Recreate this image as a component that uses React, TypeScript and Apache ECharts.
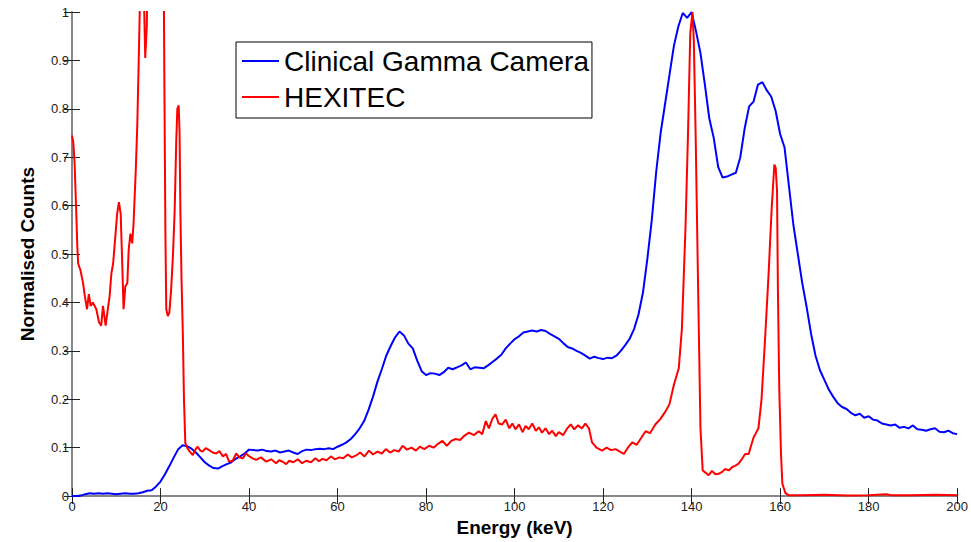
import React, { useEffect, useRef } from "react";
import * as echarts from "echarts";

// Clinical Gamma Camera: counts at 1 keV steps from 0 to 200 keV
const blueCounts = [
  0.0, 0.0, 0.001, 0.004, 0.006, 0.005, 0.006, 0.005, 0.006, 0.005,
  0.004, 0.005, 0.006, 0.005, 0.005, 0.006, 0.008, 0.011, 0.012, 0.02,
  0.03, 0.045, 0.062, 0.08, 0.097, 0.105, 0.103, 0.098, 0.09, 0.08,
  0.07, 0.063, 0.058, 0.057, 0.062, 0.066, 0.07, 0.077, 0.082, 0.088,
  0.096, 0.095, 0.094, 0.096, 0.093, 0.092, 0.094, 0.09, 0.092, 0.094,
  0.09, 0.087, 0.093, 0.096, 0.095, 0.097, 0.098, 0.097, 0.099, 0.097,
  0.102, 0.106, 0.111, 0.118, 0.128, 0.14, 0.155, 0.178, 0.205, 0.236,
  0.262, 0.29, 0.31, 0.328, 0.34, 0.332, 0.315, 0.305, 0.28, 0.258,
  0.25, 0.254, 0.253, 0.25, 0.256, 0.265, 0.262, 0.266, 0.27, 0.276,
  0.262, 0.266, 0.265, 0.264, 0.27, 0.277, 0.284, 0.292, 0.305, 0.315,
  0.324, 0.33, 0.338, 0.34, 0.342, 0.34, 0.343, 0.341, 0.335, 0.33,
  0.325, 0.316, 0.308, 0.305, 0.3, 0.296, 0.29, 0.284, 0.288, 0.285,
  0.283, 0.286, 0.285, 0.29, 0.3, 0.312, 0.325, 0.345, 0.375, 0.42,
  0.49, 0.57, 0.67, 0.75, 0.81, 0.87, 0.93, 0.97, 0.998, 0.988,
  1.0, 0.96, 0.915, 0.85, 0.78, 0.74, 0.68, 0.658, 0.66, 0.664,
  0.668, 0.7, 0.76, 0.805, 0.815, 0.85, 0.855, 0.838, 0.825, 0.795,
  0.748, 0.72, 0.64, 0.56, 0.5, 0.44, 0.39, 0.335, 0.29, 0.26,
  0.24, 0.22, 0.205, 0.192, 0.184, 0.18, 0.172, 0.167, 0.17, 0.162,
  0.165, 0.158, 0.156, 0.15, 0.148, 0.146, 0.148, 0.141, 0.143, 0.14,
  0.146, 0.138, 0.137, 0.135, 0.138, 0.14, 0.133, 0.132, 0.135, 0.13,
  0.128,
];

// HEXITEC: energies (keV) and normalised counts
const redEnergy = [
  0, 0.3, 0.6, 0.8, 1.0, 1.2, 1.4, 1.9, 2.5, 2.9, 3.4, 3.8, 4.2, 4.7, 5.5, 6.1, 6.6, 7.0, 7.6, 8.1,
  8.5, 8.9, 9.3, 9.9, 10.2, 10.6, 11.0, 11.3, 11.65, 12.05, 12.5, 12.8, 13.2, 13.6, 13.9, 14.4, 14.75, 15.05, 15.3, 15.8,
  16.2, 16.55, 16.9, 17.2, 18, 19, 20, 20.7, 20.9, 21.1, 21.3, 21.65, 22.0, 22.4, 22.8, 23.2, 23.55, 23.8, 24.1, 24.3,
  24.5, 24.75, 25.05, 25.3, 25.6, 26.0, 26.6, 27.3, 28.0, 28.4, 29.0, 29.5, 30.2, 31.0, 31.8, 32.6, 33.3, 34.1, 34.8, 35.5,
  36.3, 37.1, 37.8, 38.6, 39.3, 40.1, 40.8, 41.6, 42.7, 43.9, 45.0, 46.1, 46.8, 47.6, 48.4, 49.1, 50.0, 51.0, 52.0, 52.9,
  54.0, 55.0, 55.8, 56.6, 57.5, 58.5, 59.4, 60.4, 61.3, 62.3, 63.2, 64.2, 65.1, 66.1, 67.1, 68.0, 69.0, 70.0, 70.9, 71.9,
  72.8, 73.8, 74.7, 75.7, 76.7, 77.7, 78.6, 79.6, 80.7, 81.7, 82.7, 83.7, 84.7, 85.7, 86.7, 87.7, 88.7, 89.7, 90.8, 91.9,
  92.7, 93.5, 94.2, 95.0, 95.7, 96.4, 97.2, 98.0, 98.8, 99.5, 100.2, 101.0, 101.8, 102.5, 103.2, 104.0, 104.8, 105.5, 106.2, 107.0,
  107.8, 108.5, 109.3, 110.0, 111.0, 111.9, 112.7, 113.5, 114.3, 115.2, 116.0, 116.8, 117.5, 118.5, 119.8, 120.8, 121.8, 122.8, 123.8, 124.7,
  125.6, 126.6, 127.6, 128.6, 129.6, 130.6, 131.8, 133.0, 134.1, 135.0, 136.0, 137.1, 137.8, 138.6, 139.2, 139.7, 140.2, 140.5, 140.9, 141.5,
  142.0, 142.5, 143.2, 143.8, 144.6, 145.4, 146.1, 146.9, 147.6, 148.4, 149.2, 149.9, 150.6, 151.4, 152.1, 152.9, 153.3, 154.0, 154.4, 155.1,
  155.8, 156.6, 157.4, 158.1, 158.7, 159.0, 159.3, 159.5, 159.8, 160.2, 160.5, 161.2, 161.9, 165, 170, 175, 180, 184, 185, 190,
  195, 200,
];
const redCounts = [
  0.745, 0.73, 0.685, 0.63, 0.576, 0.515, 0.48, 0.467, 0.44, 0.413, 0.386, 0.417, 0.393, 0.4, 0.386, 0.359, 0.352, 0.393, 0.352, 0.386,
  0.413, 0.46, 0.481, 0.549, 0.583, 0.607, 0.583, 0.495, 0.386, 0.433, 0.44, 0.508, 0.542, 0.522, 0.562, 0.671, 0.766, 0.889, 1.0, 1.2,
  1.05, 0.905, 0.97, 1.2, 1.5, 1.6, 1.4, 1.1, 0.82, 0.549, 0.386, 0.372, 0.379, 0.427, 0.495, 0.59, 0.732, 0.8, 0.807, 0.753,
  0.583, 0.447, 0.332, 0.2, 0.11, 0.1, 0.092, 0.085, 0.098, 0.102, 0.094, 0.092, 0.099, 0.095, 0.09, 0.088, 0.093, 0.082, 0.087, 0.071,
  0.073, 0.088, 0.08, 0.078, 0.088, 0.082, 0.078, 0.075, 0.08, 0.071, 0.076, 0.068, 0.074, 0.071, 0.066, 0.073, 0.07, 0.076, 0.068, 0.073,
  0.07, 0.078, 0.072, 0.077, 0.074, 0.082, 0.076, 0.08, 0.078, 0.086, 0.08, 0.084, 0.09, 0.082, 0.094, 0.086, 0.092, 0.088, 0.097, 0.09,
  0.095, 0.092, 0.104, 0.096, 0.1, 0.094, 0.102, 0.097, 0.104, 0.1, 0.108, 0.114, 0.104, 0.114, 0.118, 0.116, 0.125, 0.131, 0.126, 0.134,
  0.128, 0.155, 0.14, 0.16, 0.169, 0.15, 0.148, 0.158, 0.14, 0.15, 0.138, 0.148, 0.132, 0.145, 0.138, 0.15, 0.135, 0.142, 0.131, 0.14,
  0.128, 0.135, 0.124, 0.132, 0.126, 0.14, 0.148, 0.138, 0.146, 0.14, 0.15, 0.14, 0.111, 0.1, 0.094, 0.1, 0.095, 0.097, 0.092, 0.087,
  0.1, 0.111, 0.106, 0.12, 0.134, 0.13, 0.148, 0.16, 0.175, 0.19, 0.23, 0.264, 0.345, 0.549, 0.753, 0.957, 1.0, 0.94, 0.753, 0.413,
  0.141, 0.053, 0.048, 0.043, 0.052, 0.045, 0.046, 0.05, 0.056, 0.053, 0.06, 0.063, 0.067, 0.077, 0.087, 0.087, 0.1, 0.121, 0.128, 0.14,
  0.2, 0.325, 0.46, 0.596, 0.685, 0.678, 0.631, 0.427, 0.223, 0.087, 0.026, 0.006, 0.002, 0.002, 0.003, 0.001, 0.002, 0.004, 0.002, 0.002,
  0.003, 0.002,
];

const xTicks = { min: 0, max: 200, interval: 20 };
const yTicks = { min: 0, max: 1, interval: 0.1 };

const FONT = "'Liberation Sans', Arial, Helvetica, sans-serif";

export default function App() {
  const ref = useRef<HTMLDivElement>(null);

  useEffect(() => {
    if (!ref.current) return;
    const chart = echarts.init(ref.current, null, { renderer: "svg" });

    const blueData = blueCounts.map((v, i) => [i, v]);
    const redData = redEnergy.map((e, i) => [e, redCounts[i]]);

    const axisLine = { show: true, lineStyle: { color: "#808080", width: 1.5 } };
    const tick = { show: true, inside: true, length: 8, lineStyle: { color: "#222", width: 1 } };

    chart.setOption({
      animation: false,
      backgroundColor: "#ffffff",
      textStyle: { fontFamily: FONT },
      grid: { left: 72, top: 12, width: 887, height: 490.5, containLabel: false },
      legend: {
        orient: "vertical",
        left: 236,
        top: 42,
        padding: [5, 3, 7, 6],
        itemGap: 8,
        itemWidth: 37,
        itemHeight: 2,
        borderColor: "#000",
        borderWidth: 1,
        backgroundColor: "#fff",
        textStyle: { fontSize: 28, color: "#000", fontFamily: FONT },
        data: [
          { name: "Clinical Gamma Camera", icon: "rect" },
          { name: "HEXITEC", icon: "rect" },
        ],
      },
      xAxis: [
        {
          type: "value",
          min: xTicks.min,
          max: xTicks.max,
          interval: xTicks.interval,
          name: "Energy (keV)",
          nameLocation: "middle",
          nameGap: 18,
          nameTextStyle: { fontSize: 19, fontWeight: "bold", color: "#000", fontFamily: FONT },
          axisLine,
          axisTick: tick,
          axisLabel: { fontSize: 13, color: "#222", margin: 4, fontFamily: FONT },
          splitLine: { show: false },
        },
        {
          type: "value",
          position: "top",
          min: xTicks.min,
          max: xTicks.max,
          interval: xTicks.interval,
          axisLine,
          axisTick: tick,
          axisLabel: { show: false },
          splitLine: { show: false },
        },
      ],
      yAxis: [
        {
          type: "value",
          min: yTicks.min,
          max: yTicks.max,
          interval: yTicks.interval,
          name: "Normalised Counts",
          nameLocation: "middle",
          nameGap: 35,
          nameTextStyle: { fontSize: 19, fontWeight: "bold", color: "#000", fontFamily: FONT },
          axisLine,
          axisTick: tick,
          axisLabel: {
            fontSize: 13,
            color: "#222",
            margin: 3,
            fontFamily: FONT,
            formatter: (v: number) => String(Math.round(v * 10) / 10),
          },
          splitLine: { show: false },
        },
        {
          type: "value",
          position: "right",
          min: yTicks.min,
          max: yTicks.max,
          interval: yTicks.interval,
          axisLine,
          axisTick: tick,
          axisLabel: { show: false },
          splitLine: { show: false },
        },
      ],
      series: [
        {
          name: "Clinical Gamma Camera",
          type: "line",
          data: blueData,
          showSymbol: false,
          symbol: "none",
          clip: true,
          lineStyle: { color: "#0000ff", width: 2 },
          itemStyle: { color: "#0000ff" },
        },
        {
          name: "HEXITEC",
          type: "line",
          data: redData,
          showSymbol: false,
          symbol: "none",
          clip: true,
          lineStyle: { color: "#ff0000", width: 2 },
          itemStyle: { color: "#ff0000" },
        },
      ],
    });

    return () => chart.dispose();
  }, []);

  return (
    <div
      ref={ref}
      style={{ position: "absolute", left: 0, top: 0, width: 971, height: 542, background: "#fff" }}
    />
  );
}
